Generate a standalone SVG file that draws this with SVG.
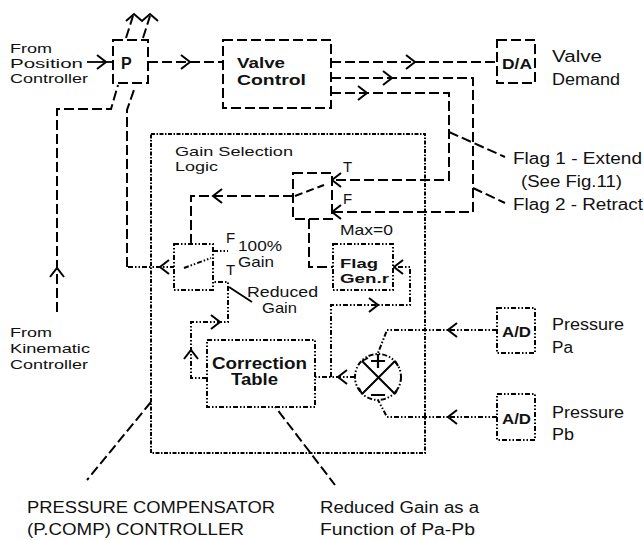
<svg xmlns="http://www.w3.org/2000/svg" xmlns:xlink="http://www.w3.org/1999/xlink" width="644" height="540" viewBox="0 0 644 540">
<style>
.t{font-family:"Liberation Sans",Arial,sans-serif;font-size:15px;fill:#111}
.s{font-size:13.4px}
.b{font-weight:bold}
.dash{fill:none;stroke:#000;stroke-width:2;stroke-dasharray:10 4}
.dot{fill:none;stroke:#000;stroke-width:2;stroke-dasharray:5 2 1.5 2 1.5 2}
.solid{fill:none;stroke:#000;stroke-width:1.8}
.box-dash{fill:#fff;stroke:#000;stroke-width:2;stroke-dasharray:10 4}
.box-dot{fill:#fff;stroke:#000;stroke-width:2;stroke-dasharray:5 2 1.5 2 1.5 2}
</style>
<defs>
<path id="ch" d="M-9,-7 L0,0 L-9,7" fill="none" stroke="#000" stroke-width="2"/>
</defs>
<rect width="644" height="540" fill="#fff"/>

<g id="gain-selection-logic">
<rect x="151" y="134" width="274" height="319" class="dot" style="stroke-dasharray:4 1.5 1.5 1.5"/>
<text class="t s" x="175" y="156" textLength="118" lengthAdjust="spacingAndGlyphs">Gain Selection</text>
<text class="t s" x="175" y="171" textLength="43" lengthAdjust="spacingAndGlyphs">Logic</text>
</g>

<g id="connectors">
<!-- From Position Controller -->
<path class="solid" d="M87,62 H113"/>
<use xlink:href="#ch" transform="translate(106,62)"/>
<!-- P to Valve Control -->
<path class="dash" d="M148,62 H223"/>
<use xlink:href="#ch" transform="translate(190,62)"/>
<!-- P top outputs -->
<path class="dash" d="M126,38 L133,16"/>
<path class="dash" d="M143,38 L150,16"/>
<path class="solid" style="stroke-width:2" d="M126,21 L134,14 L142,21 L150,14 L158,21"/>
<!-- From Kinematic Controller -->
<path class="dash" d="M57,312 V109 H111 L118,85"/>
<use xlink:href="#ch" transform="translate(57,268) rotate(-90)"/>
<!-- switch 2 output to P -->
<path class="dot" d="M175,267 H127"/>
<path class="dash" d="M127,267 V110 L135,87"/>
<use xlink:href="#ch" transform="translate(160,267) rotate(180)"/>
<!-- Valve Control to D/A -->
<path class="dash" d="M331,62 H497"/>
<use xlink:href="#ch" transform="translate(415,62)"/>
<!-- Flag 2 line -->
<path class="dash" d="M331,78 H473 V212 H332"/>
<use xlink:href="#ch" transform="translate(392,78)"/>
<use xlink:href="#ch" transform="translate(332,212) rotate(180)"/>
<!-- Flag 1 line -->
<path class="dash" d="M331,93 H449 V180 H332"/>
<use xlink:href="#ch" transform="translate(367,93)"/>
<use xlink:href="#ch" transform="translate(332,180) rotate(180)"/>
<!-- flag leaders -->
<path class="dash" d="M449,132 L505,157"/>
<path class="dash" d="M473,188 L505,203"/>
<!-- switch 1 output to switch 2 -->
<path class="dash" d="M293,196 H191 V244"/>
<use xlink:href="#ch" transform="translate(213,196) rotate(180)"/>
<!-- switch 1 to Flag Gen -->
<path class="dash" d="M309,219 V267 H333"/>
<!-- Flag Gen input -->
<path class="dot" d="M331,377 V305 H410 V267 H393"/>
<use xlink:href="#ch" transform="translate(378,305)"/>
<use xlink:href="#ch" transform="translate(394,267) rotate(180)"/>
<!-- junction to correction table -->
<path class="dot" d="M355,377 H315"/>
<use xlink:href="#ch" transform="translate(338,377) rotate(180)"/>
<!-- correction table to switch 2 T -->
<path class="dot" d="M207,378 H191 V322 H228 V282 H213"/>
<use xlink:href="#ch" transform="translate(191,350) rotate(-90)"/>
<use xlink:href="#ch" transform="translate(220,322)"/>
<!-- switch 2 F stub -->
<path class="dot" d="M213,251 H228"/>
<!-- Pa, Pb -->
<path class="dot" d="M497,330 H387 L378,353"/>
<use xlink:href="#ch" transform="translate(448,330) rotate(180)"/>
<path class="dot" d="M497,417 H387 L378,400"/>
<use xlink:href="#ch" transform="translate(448,417) rotate(180)"/>
<!-- leaders -->
<path class="dash" d="M151,402 L87,480"/>
<path class="dash" d="M270,400 L335,485"/>
<path class="solid" d="M229,287 L252,302"/>
</g>

<g id="node-p">
<rect x="113" y="40" width="35" height="43" class="box-dash"/>
<text class="t b" x="121" y="69" style="font-size:16px">P</text>
</g>

<g id="node-valve-control">
<rect x="223" y="40" width="108" height="68" class="box-dash"/>
<text class="t b" x="237" y="68" textLength="48" lengthAdjust="spacingAndGlyphs">Valve</text>
<text class="t b" x="237" y="85" textLength="69" lengthAdjust="spacingAndGlyphs">Control</text>
</g>

<g id="node-da">
<rect x="497" y="40" width="38" height="43" class="box-dash"/>
<text class="t b" x="502" y="69" textLength="30" lengthAdjust="spacingAndGlyphs">D/A</text>
</g>

<g id="node-switch1">
<rect x="293" y="173" width="39" height="46" class="box-dash"/>
<path class="dash" style="stroke-dasharray:8 4" d="M295,196 L324,185"/>
<text class="t" x="343" y="172">T</text>
<text class="t" x="343" y="204">F</text>
<text class="t" x="340" y="235" textLength="53" lengthAdjust="spacingAndGlyphs">Max=0</text>
</g>

<g id="node-switch2">
<rect x="174" y="244" width="39" height="46" class="box-dot"/>
<path class="dot" d="M184,268 L211,258"/>
<text class="t" x="226" y="243">F</text>
<text class="t" x="238" y="251" textLength="44" lengthAdjust="spacingAndGlyphs">100%</text>
<text class="t" x="226" y="275">T</text>
<text class="t" x="238" y="267" textLength="36" lengthAdjust="spacingAndGlyphs">Gain</text>
<text class="t" x="247" y="297" textLength="71" lengthAdjust="spacingAndGlyphs">Reduced</text>
<text class="t" x="262" y="313" textLength="35" lengthAdjust="spacingAndGlyphs">Gain</text>
</g>

<g id="node-flag-gen">
<rect x="333" y="244" width="60" height="46" class="box-dot"/>
<text class="t b s" x="340" y="268" textLength="38" lengthAdjust="spacingAndGlyphs">Flag</text>
<text class="t b s" x="340" y="283" textLength="49" lengthAdjust="spacingAndGlyphs">Gen.r</text>
</g>

<g id="node-correction-table">
<rect x="207" y="340" width="108" height="67" class="box-dot"/>
<text class="t b" x="212" y="369" style="font-size:16px" textLength="95" lengthAdjust="spacingAndGlyphs">Correction</text>
<text class="t b" x="231" y="385" style="font-size:16px" textLength="47" lengthAdjust="spacingAndGlyphs">Table</text>
</g>

<g id="node-summing-junction">
<circle cx="378" cy="377" r="23" class="box-dot"/>
<path class="solid" style="stroke-width:2" d="M362,361 L395,394 M362,394 L395,361"/>
<path class="solid" d="M362,361 L368,358 M395,394 L398,388 M395,361 L398,366 M362,394 L359,388"/>
<path class="solid" style="stroke-width:2.2" d="M371,361 H385 M378,354 V368 M371,395 H385"/>
</g>

<g id="node-ad-pa">
<rect x="497" y="308" width="38" height="45" class="box-dot"/>
<text class="t b" x="502" y="337" textLength="29" lengthAdjust="spacingAndGlyphs">A/D</text>
</g>

<g id="node-ad-pb">
<rect x="497" y="394" width="38" height="46" class="box-dot"/>
<text class="t b" x="502" y="424" textLength="29" lengthAdjust="spacingAndGlyphs">A/D</text>
</g>

<g id="labels">
<text class="t s" x="10" y="53" textLength="42" lengthAdjust="spacingAndGlyphs">From</text>
<text class="t s" x="10" y="68" textLength="73" lengthAdjust="spacingAndGlyphs">Position</text>
<text class="t s" x="10" y="83" textLength="78" lengthAdjust="spacingAndGlyphs">Controller</text>
<text class="t" x="552" y="62" style="font-size:16px" textLength="50" lengthAdjust="spacingAndGlyphs">Valve</text>
<text class="t" x="552" y="85" style="font-size:16px" textLength="68" lengthAdjust="spacingAndGlyphs">Demand</text>
<text class="t" x="513" y="164" style="font-size:16px" textLength="129" lengthAdjust="spacingAndGlyphs">Flag 1 - Extend</text>
<text class="t" x="521" y="187" style="font-size:16px" textLength="101" lengthAdjust="spacingAndGlyphs">(See Fig.11)</text>
<text class="t" x="513" y="210" style="font-size:16px" textLength="130" lengthAdjust="spacingAndGlyphs">Flag 2 - Retract</text>
<text class="t" x="552" y="330" style="font-size:16px" textLength="72" lengthAdjust="spacingAndGlyphs">Pressure</text>
<text class="t" x="552" y="353" style="font-size:16px" textLength="21" lengthAdjust="spacingAndGlyphs">Pa</text>
<text class="t" x="552" y="418" style="font-size:16px" textLength="72" lengthAdjust="spacingAndGlyphs">Pressure</text>
<text class="t" x="552" y="440" style="font-size:16px" textLength="22" lengthAdjust="spacingAndGlyphs">Pb</text>
<text class="t s" x="10" y="337" textLength="42" lengthAdjust="spacingAndGlyphs">From</text>
<text class="t s" x="10" y="353" textLength="80" lengthAdjust="spacingAndGlyphs">Kinematic</text>
<text class="t s" x="10" y="369" textLength="78" lengthAdjust="spacingAndGlyphs">Controller</text>
<text class="t" x="27" y="513" style="font-size:16px" textLength="248" lengthAdjust="spacingAndGlyphs">PRESSURE COMPENSATOR</text>
<text class="t" x="27" y="535" style="font-size:16px" textLength="217" lengthAdjust="spacingAndGlyphs">(P.COMP) CONTROLLER</text>
<text class="t" x="320" y="513" style="font-size:16px" textLength="159" lengthAdjust="spacingAndGlyphs">Reduced Gain as a</text>
<text class="t" x="320" y="535" style="font-size:16px" textLength="155" lengthAdjust="spacingAndGlyphs">Function of Pa-Pb</text>
</g>
</svg>
